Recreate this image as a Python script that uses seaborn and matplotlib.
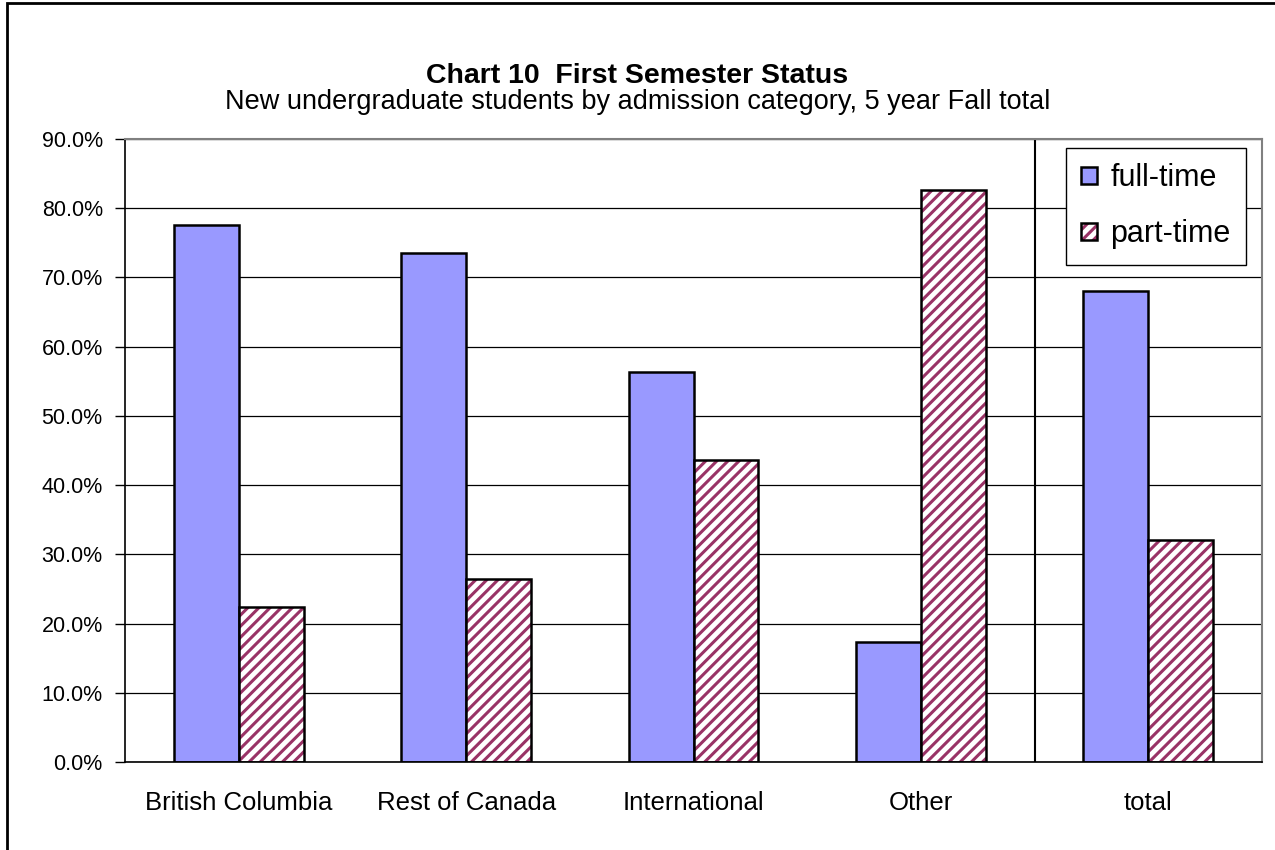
import pandas as pd
import seaborn as sns
import matplotlib.pyplot as plt
from matplotlib.colors import to_rgba
from matplotlib.patches import Rectangle
from matplotlib.ticker import FuncFormatter

# values (percent)
categories = ['British Columbia', 'Rest of Canada', 'International', 'Other', 'total']
series = ['full-time', 'part-time']
full_time = [77.6, 73.6, 56.4, 17.4, 68.0]
part_time = [22.4, 26.4, 43.6, 82.6, 32.0]
y_ticks = [0, 10, 20, 30, 40, 50, 60, 70, 80, 90]

df = pd.DataFrame({
    'category': categories * 2,
    'status': [series[0]] * len(categories) + [series[1]] * len(categories),
    'pct': full_time + part_time,
})

sns.set_theme(style='white')
plt.rcParams['font.family'] = ['Liberation Sans', 'DejaVu Sans']
plt.rcParams['text.color'] = 'black'
plt.rcParams['xtick.color'] = 'black'
plt.rcParams['ytick.color'] = 'black'
plt.rcParams['hatch.linewidth'] = 2.2

W, H = 1275, 850
fig = plt.figure(figsize=(W / 100, H / 100), dpi=100)
ax = fig.add_axes([125 / W, 1 - 762 / H, (1262 - 125) / W, (762 - 139) / H])

sns.barplot(data=df, x='category', y='pct', hue='status', order=categories,
            hue_order=series, palette=['#9999ff', 'white'], saturation=1,
            width=0.57, gap=0, edgecolor='black', linewidth=1.8,
            errorbar=None, legend=False, ax=ax)

# part-time bars: maroon diagonal hatch, black outline
for bar in ax.containers[1]:
    bar.set_hatch('///')
    bar._hatch_color = to_rgba('#993366')

ax.set_xlim(-0.5, len(categories) - 0.5)
ax.set_ylim(0, 90)
ax.set_yticks(y_ticks)
ax.yaxis.set_major_formatter(FuncFormatter(lambda v, p: f'{v:.1f}%'))
ax.set_xticks(range(len(categories)))
ax.set_xticklabels(categories)
ax.set_xticks([i - 0.5 for i in range(len(categories) + 1)], minor=True)
ax.tick_params(axis='x', which='major', length=0, pad=21, labelsize=18.5, labelcolor='black')
ax.tick_params(axis='x', which='minor', length=7, width=1, color='black', direction='out')
ax.tick_params(axis='y', length=7, width=1, color='black', direction='out', pad=9,
               labelsize=15.5, labelcolor='black', left=True)
ax.set_xlabel('')
ax.set_ylabel('')

ax.yaxis.grid(True, color='black', linewidth=0.9)
ax.set_axisbelow(True)
for side in ['left', 'bottom']:
    ax.spines[side].set_color('black')
    ax.spines[side].set_linewidth(1.2)
for side in ['top', 'right']:
    ax.spines[side].set_color('#808080')
    ax.spines[side].set_linewidth(1.5)

# separator before the total group
ax.axvline(len(categories) - 1.5, color='black', linewidth=1.5)

leg = ax.legend(ax.containers, series, loc='upper right',
                bbox_to_anchor=(1 - 16 / 1137, 1 - 9 / 623), fontsize=22,
                frameon=True, fancybox=False, framealpha=1, edgecolor='black',
                handlelength=0.5, handleheight=0.5, handletextpad=0.45,
                borderpad=0.5, labelspacing=0.85, borderaxespad=0)
leg.get_frame().set_linewidth(1)

fig.text(0.5, 1 - 76 / H, 'Chart 10  First Semester Status', ha='center', va='center',
         fontsize=20.5, fontweight='bold')
fig.text(0.5, 1 - 102 / H, 'New undergraduate students by admission category, 5 year Fall total',
         ha='center', va='center', fontsize=19.5)

# outer chart border (only left and top edges fall inside the picture)
fig.add_artist(Rectangle((7 / W, -1), 3, 2 - 3 / H, transform=fig.transFigure,
                         fill=False, edgecolor='black', linewidth=2))

fig.savefig('out.png', dpi=100)
